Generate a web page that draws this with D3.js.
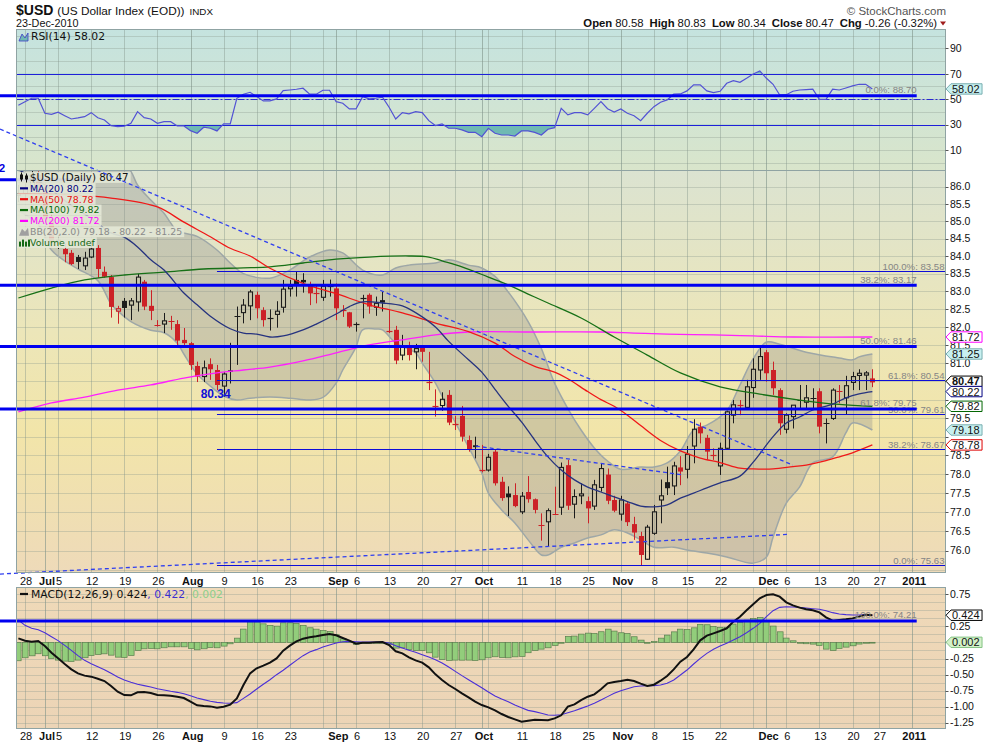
<!DOCTYPE html>
<html>
<head>
<meta charset="utf-8">
<title>$USD (US Dollar Index (EOD))</title>
<script src="https://cdn.jsdelivr.net/npm/d3@7"></script>
<style>
  body { margin: 0; background: #fff; }
  svg { display: block; }
  svg text { font-family: "Liberation Sans", Arial, sans-serif; }
  .lg { font-family: "DejaVu Sans", Verdana, sans-serif; }
</style>
</head>
<body>
<svg id="chart" width="990" height="744"></svg>
<script>
// ---- values ----
// day index: 0 = Mon 28-Jun-2010, one step per weekday; first bar is Fri 25-Jun
var firstDay = -1;

var openVals = [85.75,85.80,85.95,86.35,86.00,85.05,84.40,84.20,84.09,83.97,83.72,83.97,84.23,83.55,83.40,82.44,82.73,82.61,82.70,83.27,
  82.59,82.06,82.08,82.16,82.08,81.64,81.55,80.92,80.63,80.97,80.81,80.37,80.80,82.28,82.40,82.59,82.90,82.47,82.24,82.35,
  82.55,83.07,83.32,83.32,83.18,82.94,82.83,83.15,83.08,82.48,82.41,82.09,82.79,82.90,82.55,82.75,81.90,81.92,81.22,81.45,
  81.31,81.45,80.47,79.83,79.84,80.13,79.35,79.56,78.91,78.77,78.10,78.11,78.60,77.80,77.49,77.45,77.01,77.53,77.34,76.66,
  76.75,76.96,77.13,78.24,77.21,77.43,77.29,77.16,77.65,77.99,77.32,76.95,77.23,76.69,76.38,75.78,76.45,77.32,77.79,77.69,
  78.18,78.13,78.75,79.27,78.97,78.52,78.22,78.69,79.58,79.83,79.79,80.33,80.81,81.30,80.81,80.26,79.20,79.54,79.98,79.93,
  80.04,80.23,79.37,79.49,80.23,80.05,80.47,80.66,80.67,80.58];
var highVals = [86.05,86.10,86.50,86.45,86.10,85.20,84.60,84.35,84.17,84.03,84.12,84.41,84.31,83.70,83.46,82.59,82.81,82.81,83.49,83.32,
  83.03,82.19,82.39,82.31,82.19,81.97,81.58,81.04,81.07,81.13,80.95,80.75,81.56,82.57,82.78,83.04,82.99,82.55,82.49,82.72,
  83.32,83.32,83.55,83.51,83.27,83.15,83.32,83.33,83.22,82.61,82.42,82.13,82.90,82.94,82.85,82.99,82.47,82.03,81.78,81.59,
  81.53,81.45,81.31,80.28,80.20,80.26,79.56,79.83,79.03,79.00,78.78,78.54,78.66,77.93,77.68,77.76,77.53,77.95,77.36,76.97,
  77.10,77.67,78.31,78.38,77.60,77.76,77.41,77.85,78.29,78.15,77.43,77.43,77.28,76.88,76.49,76.67,77.19,77.86,78.20,78.33,
  78.48,78.75,79.47,79.38,79.05,78.69,78.84,79.70,79.99,79.99,80.54,81.13,81.47,81.36,81.04,80.31,79.63,79.85,80.40,80.40,
  80.31,80.31,79.49,80.31,80.40,80.65,80.76,80.83,80.78,80.83];
var lowVals = [85.55,85.60,85.85,85.90,84.90,84.25,84.20,83.82,83.74,83.63,83.60,83.94,83.38,83.38,82.26,82.09,82.26,82.19,82.43,82.47,
  82.19,82.01,81.83,81.92,81.50,81.50,80.81,80.48,80.48,80.54,80.26,80.08,80.44,80.95,82.10,82.19,82.24,82.01,81.90,81.98,
  82.40,82.85,82.85,82.96,82.61,82.66,82.73,82.85,82.19,82.28,81.97,81.87,82.24,82.37,82.31,82.43,81.83,80.97,81.08,81.07,
  80.83,81.04,80.26,79.54,79.70,79.31,79.18,78.87,78.60,78.42,78.05,78.07,77.70,77.30,76.90,77.13,76.95,77.25,76.97,76.26,
  76.12,76.93,76.93,77.06,76.84,77.21,76.71,77.06,77.54,77.21,77.00,76.78,76.64,76.28,75.63,75.76,76.41,76.71,77.45,77.45,
  77.71,77.89,78.29,78.82,78.38,78.38,77.98,78.67,79.36,79.58,79.72,80.05,80.54,80.49,80.13,79.05,79.09,79.22,79.77,79.77,
  79.77,79.09,78.82,79.45,79.90,79.61,80.26,80.26,80.26,80.34];
var closeVals = [85.80,85.95,86.35,86.00,85.05,84.40,84.45,84.05,83.77,83.83,83.94,84.20,83.63,83.41,82.56,82.51,82.53,82.73,83.40,82.57,
  82.45,82.05,82.17,82.15,81.62,81.55,80.95,80.63,80.87,80.83,80.40,80.70,80.76,82.30,82.61,82.98,82.52,82.19,82.22,82.44,
  83.06,83.13,83.15,83.25,82.94,82.93,83.14,83.16,82.52,82.47,82.01,82.06,82.80,82.57,82.66,82.68,81.89,81.07,81.45,81.22,
  81.40,81.31,80.46,79.82,80.01,79.38,79.34,79.00,78.66,78.72,78.09,78.45,77.76,77.37,77.39,77.16,77.42,77.34,77.06,76.65,
  77.04,76.95,78.18,77.17,77.41,77.48,77.10,77.72,78.15,77.30,77.04,77.32,76.74,76.47,75.89,76.61,77.01,77.43,77.63,78.22,
  78.07,78.53,79.20,79.09,78.60,78.51,78.69,79.67,79.86,79.85,80.35,80.83,81.18,80.72,80.31,79.36,79.58,79.85,79.99,80.05,
  80.05,79.27,79.38,80.26,80.22,80.38,80.63,80.72,80.73,80.47];

var ma20Days = [-1,3,7,10,13,15,17,19,21,24,26,28,31,33,35,37,39,42,44,47,49,51,54,57,59,62,64,67,69,71,
  73,75,77,79,81,83,85,87,89,91,93,95,97,99,101,103,105,108,110,113,115,117,119,122,124,126,128];
var ma20Vals = [86.50,86.05,85.45,85.08,84.66,84.54,84.26,83.89,83.60,82.95,82.62,82.30,81.95,81.83,81.80,81.72,81.75,81.92,82.08,82.36,
  82.57,82.70,82.67,82.59,82.40,82.00,81.60,81.09,80.75,80.28,79.82,79.40,78.91,78.46,78.11,77.85,77.66,77.53,77.40,77.28,
  77.16,77.14,77.19,77.37,77.50,77.64,77.77,77.95,78.32,79.00,79.37,79.53,79.72,79.88,80.05,80.16,80.22];
var ma50Days = [-1,3,7,13,20,24,28,31,34,37,42,47,52,57,62,67,71,74,77,80,82,85,87,89,91,93,96,99,102,105,108,110,113,116,118,121,123,125,128];
var ma50Vals = [85.80,85.78,85.76,85.67,85.41,84.97,84.55,84.22,84.00,83.65,83.22,82.93,82.62,82.39,82.11,81.87,81.55,81.18,80.91,80.75,
  80.57,80.22,80.00,79.82,79.58,79.30,78.90,78.62,78.43,78.31,78.16,78.14,78.14,78.20,78.24,78.36,78.46,78.57,78.78];
var ma100Days = [-1,4,9,15,21,27,33,37,42,47,52,58,61,63,66,70,73,76,79,84,89,94,99,105,111,117,123,128];
var ma100Vals = [82.81,83.09,83.32,83.46,83.54,83.63,83.66,83.69,83.80,83.91,83.97,84.00,83.97,83.86,83.69,83.40,83.18,82.92,82.67,82.25,
  81.72,81.22,80.73,80.35,80.15,79.99,79.87,79.82];
var ma200Days = [-1,4,9,14,19,24,29,33,37,42,47,52,57,62,67,77,87,92,97,104,110,116,128];
var ma200Vals = [79.67,79.91,80.07,80.26,80.40,80.59,80.73,80.81,80.89,81.06,81.28,81.50,81.64,81.78,81.86,81.86,81.86,81.83,81.80,81.78,
  81.75,81.72,81.72];
var bbUpperDays = [-1,5,10,14,16,17,19,21,22,23,26,29,31,33,37,40,43,46,48,51,54,56,58,62,64,67,69,71,73,76,
  78,80,82,84,86,88,90,93,95,97,99,101,103,106,108,110,112,114,118,123,125,126,128];
var bbUpperVals = [88.3,88.0,87.5,86.9,86.45,86.05,85.61,85.23,84.95,84.72,84.56,84.17,83.80,83.50,83.37,83.60,83.97,84.17,84.09,83.60,
  83.46,83.66,83.74,83.80,83.89,83.74,83.66,83.42,82.98,82.15,81.40,80.45,79.76,79.18,78.70,78.35,78.13,78.19,78.19,78.30,
  78.62,79.18,79.31,79.70,80.40,81.12,81.58,81.52,81.30,81.14,81.09,81.17,81.25];
var bbLowerDays = [-1,2,4,6,8,11,13,14,16,19,21,23,24,26,28,30,32,34,37,40,43,45,47,48,50,51,53,54,56,59,
  60,62,64,67,69,70,72,74,76,78,79,81,83,85,87,89,91,93,95,98,100,103,106,110,112,113,115,117,119,122,124,125,128];
var bbLowerVals = [85.30,84.90,84.17,83.86,83.63,83.30,82.64,82.45,82.15,81.91,81.84,81.55,81.25,80.70,80.37,80.10,79.99,80.04,80.07,80.04,
  79.99,80.06,80.45,80.81,81.44,81.92,81.94,81.92,81.55,81.28,81.00,80.45,79.72,78.72,78.03,77.50,77.06,76.72,76.28,75.89,
  75.89,76.09,76.20,76.33,76.41,76.54,76.46,76.28,76.09,76.09,76.02,75.94,75.84,75.68,75.84,76.35,77.24,77.66,78.30,78.46,
  79.10,79.37,79.18];

var rsiVals = [45.2,48.0,50.7,50.7,38.9,38.1,39.7,37.0,34.4,35.2,36.2,39.4,35.4,33.6,29.2,28.4,28.7,31.0,40.2,35.4,
  34.4,31.0,32.3,32.3,28.9,28.9,25.2,23.2,27.9,27.1,25.0,30.5,30.5,50.7,53.9,55.4,52.0,48.6,48.6,50.2,
  56.7,57.2,57.8,58.6,53.9,53.9,57.0,57.0,48.0,46.8,42.3,42.3,52.0,50.2,50.7,51.5,43.6,34.4,39.4,38.4,
  40.2,39.4,33.1,29.2,30.5,27.1,27.1,25.8,23.9,23.9,20.5,27.1,23.2,21.8,21.8,21.0,25.0,25.0,23.9,21.8,
  26.3,27.6,42.8,37.6,39.4,39.4,37.6,42.8,48.0,42.5,39.9,42.3,38.9,37.0,33.1,38.9,44.1,47.6,49.4,53.9,
  54.1,56.5,61.2,61.2,56.5,55.1,56.2,62.5,64.6,63.3,66.4,69.8,72.2,66.4,61.7,53.3,53.5,56.2,57.2,57.5,
  57.8,49.9,49.9,57.8,57.2,58.8,60.4,61.7,61.7,58.02];

var macdVals = [0.064,0.028,0.012,0.023,-0.055,-0.160,-0.247,-0.336,-0.419,-0.481,-0.517,-0.533,-0.565,-0.601,-0.679,-0.767,-0.819,-0.824,-0.777,-0.772,
  -0.787,-0.819,-0.824,-0.829,-0.845,-0.866,-0.923,-0.980,-0.990,-0.996,-1.016,-1.000,-0.969,-0.871,-0.663,-0.481,-0.403,-0.362,-0.315,-0.248,
  -0.128,-0.050,0.017,0.059,0.080,0.095,0.116,0.132,0.111,0.069,0.028,-0.019,-0.003,-0.003,0.002,0.007,-0.040,-0.138,-0.170,-0.232,
  -0.279,-0.315,-0.388,-0.497,-0.585,-0.663,-0.725,-0.793,-0.855,-0.923,-0.975,-1.011,-1.058,-1.115,-1.161,-1.198,-1.234,-1.218,-1.203,-1.208,
  -1.213,-1.182,-1.135,-1.000,-0.964,-0.897,-0.845,-0.808,-0.730,-0.637,-0.616,-0.600,-0.580,-0.600,-0.642,-0.679,-0.658,-0.596,-0.523,-0.420,
  -0.300,-0.227,-0.108,0.033,0.106,0.142,0.178,0.220,0.324,0.401,0.500,0.594,0.687,0.739,0.750,0.713,0.625,0.578,0.542,0.516,
  0.500,0.469,0.391,0.339,0.350,0.360,0.375,0.402,0.433,0.424];
var signalVals = [0.349,0.267,0.220,0.199,0.152,0.090,0.028,-0.045,-0.123,-0.206,-0.279,-0.330,-0.377,-0.424,-0.481,-0.538,-0.585,-0.621,-0.652,-0.673,
  -0.694,-0.720,-0.741,-0.761,-0.777,-0.798,-0.829,-0.865,-0.891,-0.917,-0.933,-0.943,-0.948,-0.938,-0.871,-0.803,-0.725,-0.652,-0.580,-0.502,
  -0.434,-0.356,-0.279,-0.206,-0.149,-0.112,-0.071,-0.040,-0.009,0.012,0.017,0.012,0.007,0.007,0.007,0.007,-0.009,-0.050,-0.086,-0.123,
  -0.154,-0.190,-0.227,-0.268,-0.320,-0.382,-0.450,-0.517,-0.580,-0.642,-0.705,-0.772,-0.835,-0.880,-0.922,-0.974,-1.016,-1.058,-1.078,-1.104,
  -1.130,-1.135,-1.125,-1.094,-1.063,-1.027,-0.990,-0.948,-0.897,-0.844,-0.793,-0.751,-0.720,-0.689,-0.678,-0.673,-0.673,-0.663,-0.637,-0.585,
  -0.507,-0.430,-0.336,-0.247,-0.170,-0.107,-0.055,-0.014,0.038,0.090,0.152,0.220,0.298,0.401,0.495,0.547,0.557,0.552,0.547,0.536,
  0.526,0.516,0.495,0.464,0.443,0.433,0.427,0.427,0.433,0.422];

// x axis: weekday index of each label
var tickDays = [0,3,5,10,15,20,25,30,35,40,47,50,55,60,65,69,75,80,85,90,95,100,105,112,115,120,125,129,134];
var tickLabels = ["28","Jul","5","12","19","26","Aug","9","16","23","Sep","6","13","20","27","Oct","11","18","25",
  "Nov","8","15","22","Dec","6","13","20","27","2011"];
var extraGridDays = [45,70,110];
var priceTicks = [76,76.5,77,77.5,78,78.5,79,79.5,80,80.5,81,81.5,82,82.5,83,83.5,84,84.5,85,85.5,86];
var rsiTicks = [10,30,50,70,90];
var macdTicks = [-1.25,-1,-0.75,-0.5,-0.25,0,0.25,0.5,0.75];

// annotations drawn on the chart (day index, price)
var fibALevels = [83.58,80.54,79.61,78.67,75.63];
var fibANames = ["100.0%","61.8%","50.0%","38.2%","0.0%"];
var fibADays = [29,140];
var fibBLevels = [88.70,83.17,81.46,79.75,74.21];
var fibBNames = ["0.0%","38.2%","50.0%","61.8%","100.0%"];
var fibBDays = [-3.8,134.7];
var trendLines = [
  [[-3.78,87.70],[116.0,78.24]],
  [[-3.78,75.40],[115.1,76.42]],
  [[68.1,78.75],[99.4,77.98]]
];
var lowNote = {day: 28.8, price: 80.05, text: "80.34"};

// ---- layout ----
var svg = d3.select("#chart");
var defs = svg.append("defs");
var left = 16.5, right = 945.5;
var pRsi = {top: 29.5, bottom: 170.5}, pMain = {top: 170.5, bottom: 572.5}, pMacd = {top: 587.5, bottom: 728.5};

var x = d3.scaleLinear().domain([0, 130]).range([25, 25 + 6.62 * 130]);
var yP = d3.scaleLog().domain([76, 86]).range([550.7, 186.7]);
var yR = d3.scaleLinear().domain([10, 90]).range([150, 48.3]);
var yM = d3.scaleLinear().domain([-1.25, 0.75]).range([722.7, 594.3]);

// plain hyphen minus, as on the original chart
function fx(n) { return function(v) { return (+v).toFixed(n); }; }
var f1 = fx(1), f2 = fx(2), f3 = fx(3);
function lastOf(a) { return a[a.length - 1]; }

function vGrad(id, stops) {
  var g = defs.append("linearGradient").attr("id", id)
    .attr("x1", 0).attr("y1", 0).attr("x2", 0).attr("y2", 1);
  stops.forEach(function(s) { g.append("stop").attr("offset", s[0]).attr("stop-color", s[1]); });
}
vGrad("bgRsi", [[0, "#c5e3df"], [1, "#d9e5cb"]]);
vGrad("bgMain", [[0, "#dbe3d1"], [0.4, "#ece6b9"], [0.65, "#f2e5a9"], [1, "#eedab9"]]);
vGrad("bgMacd", [[0, "#efd9b8"], [1, "#ecd4b6"]]);

function clip(id, p) {
  defs.append("clipPath").attr("id", id).append("rect")
    .attr("x", left).attr("y", p.top).attr("width", right - left).attr("height", p.bottom - p.top);
}
clip("clipRsi", pRsi); clip("clipMain", pMain); clip("clipMacd", pMacd);

var gridDays = tickDays.concat(extraGridDays);
var monthDays = [3, 25, 47, 69, 90, 112, 134];

function panel(p, bg, clipId, yScale, hLines) {
  svg.append("rect").attr("x", left).attr("y", p.top).attr("width", right - left)
    .attr("height", p.bottom - p.top).attr("fill", "url(#" + bg + ")");
  var g = svg.append("g").attr("clip-path", "url(#" + clipId + ")");
  g.selectAll(null).data(hLines).enter().append("line")
    .attr("x1", left).attr("x2", right)
    .attr("y1", function(d) { return Math.round(yScale(d)) + 0.5; })
    .attr("y2", function(d) { return Math.round(yScale(d)) + 0.5; })
    .attr("stroke", "#8c9c90").attr("stroke-opacity", 0.35);
  g.selectAll(null).data(gridDays).enter().append("line")
    .attr("x1", function(d) { return Math.round(x(d)) + 0.5; })
    .attr("x2", function(d) { return Math.round(x(d)) + 0.5; })
    .attr("y1", p.top).attr("y2", p.bottom)
    .attr("stroke", "#7f9288")
    .attr("stroke-opacity", function(d) { return monthDays.indexOf(d) >= 0 ? 0.6 : 0.4; });
}
panel(pRsi, "bgRsi", "clipRsi", yR, d3.range(0, 101, 10));
panel(pMain, "bgMain", "clipMain", yP, d3.range(75.5, 86.6, 0.5));
panel(pMacd, "bgMacd", "clipMacd", yM, d3.range(-1.25, 0.8, 0.125));

// ---- RSI ----
var gR = svg.append("g").attr("clip-path", "url(#clipRsi)");
var rsiPts = rsiVals.map(function(v, i) { return [x(firstDay + i), yR(v)]; });
defs.append("clipPath").attr("id", "below30").append("rect")
  .attr("x", left).attr("y", yR(30)).attr("width", right - left).attr("height", pRsi.bottom - yR(30));
defs.append("clipPath").attr("id", "above70").append("rect")
  .attr("x", left).attr("y", pRsi.top).attr("width", right - left).attr("height", yR(70) - pRsi.top);
gR.append("g").attr("clip-path", "url(#below30)").append("path")
  .attr("d", d3.area().x(function(d) { return d[0]; }).y0(yR(30)).y1(function(d) { return d[1]; })(rsiPts))
  .attr("fill", "#6fb9b3");
gR.append("g").attr("clip-path", "url(#above70)").append("path")
  .attr("d", d3.area().x(function(d) { return d[0]; }).y0(yR(70)).y1(function(d) { return d[1]; })(rsiPts))
  .attr("fill", "#6fb9b3");
[30, 70].forEach(function(v) {
  gR.append("line").attr("x1", left).attr("x2", right)
    .attr("y1", Math.round(yR(v)) + 0.5).attr("y2", Math.round(yR(v)) + 0.5)
    .attr("stroke", "#1f1fd8").attr("stroke-width", 1);
});
gR.append("line").attr("x1", left).attr("x2", right)
  .attr("y1", Math.round(yR(50)) + 0.5).attr("y2", Math.round(yR(50)) + 0.5)
  .attr("stroke", "#2a2ad0").attr("stroke-dasharray", "7,2,2,2");
gR.append("path").attr("d", d3.line()(rsiPts))
  .attr("fill", "none").attr("stroke", "#5252d4").attr("stroke-width", 1.2);

// ---- price panel ----
var gP = svg.append("g").attr("clip-path", "url(#clipMain)");
function pts(days, vals) { return days.map(function(d, i) { return [x(d), yP(vals[i])]; }); }
var smooth = d3.line().curve(d3.curveCatmullRom.alpha(0.5));
var upPts = pts(bbUpperDays, bbUpperVals), loPts = pts(bbLowerDays, bbLowerVals);
gP.append("path")
  .attr("d", smooth(upPts) + "L" + smooth(loPts.slice().reverse()).slice(1) + "Z")
  .attr("fill", "#8f8f8f").attr("fill-opacity", 0.34);
[upPts, loPts].forEach(function(p) {
  gP.append("path").attr("d", smooth(p)).attr("fill", "none")
    .attr("stroke", "#9ea7a7").attr("stroke-width", 1.5);
});

var bars = closeVals.map(function(c, i) {
  return {day: firstDay + i, o: openVals[i], h: highVals[i], l: lowVals[i], c: c,
          prev: i > 0 ? closeVals[i - 1] : c};
});
var bw = 5;
gP.append("g").selectAll("g").data(bars).enter().append("g")
  .each(function(b) {
    var g = d3.select(this);
    var cx = Math.round(x(b.day)) + 0.5;
    var col = b.c < b.prev ? "#cc2127" : "#1c1c1c";
    var yT = yP(Math.max(b.o, b.c)), yB = yP(Math.min(b.o, b.c));
    var hollow = b.c > b.o;
    if (yB - yT < 1.2) {
      g.append("line").attr("x1", cx).attr("x2", cx).attr("y1", yP(b.h)).attr("y2", yP(b.l)).attr("stroke", col);
      g.append("line").attr("x1", cx - 3).attr("x2", cx + 3)
        .attr("y1", Math.round(yT) + 0.5).attr("y2", Math.round(yT) + 0.5).attr("stroke", col).attr("stroke-width", 1.2);
    } else if (hollow) {
      g.append("line").attr("x1", cx).attr("x2", cx).attr("y1", yP(b.h)).attr("y2", yT).attr("stroke", col);
      g.append("line").attr("x1", cx).attr("x2", cx).attr("y1", yB).attr("y2", yP(b.l)).attr("stroke", col);
      g.append("rect").attr("x", cx - 2).attr("y", yT).attr("width", bw - 1).attr("height", yB - yT)
        .attr("fill", "none").attr("stroke", col).attr("stroke-width", 1.1);
    } else {
      g.append("line").attr("x1", cx).attr("x2", cx).attr("y1", yP(b.h)).attr("y2", yP(b.l)).attr("stroke", col);
      g.append("rect").attr("x", cx - 2.5).attr("y", yT).attr("width", bw).attr("height", yB - yT).attr("fill", col);
    }
  });

var maDefs = [
  [ma200Days, ma200Vals, "#ff1fff"],
  [ma100Days, ma100Vals, "#167016"],
  [ma50Days, ma50Vals, "#f01818"],
  [ma20Days, ma20Vals, "#26337f"]
];
maDefs.forEach(function(m) {
  gP.append("path").attr("d", smooth(pts(m[0], m[1])))
    .attr("fill", "none").attr("stroke", m[2]).attr("stroke-width", 1.3);
});

// ---- MACD ----
var gM = svg.append("g").attr("clip-path", "url(#clipMacd)");
var histVals = macdVals.map(function(v, i) { return v - signalVals[i]; });
gM.append("g").selectAll("rect").data(histVals).enter().append("rect")
  .attr("x", function(d, i) { return Math.round(x(firstDay + i)) - 2.5; })
  .attr("width", 5.6)
  .attr("y", function(d) { return Math.min(yM(0), yM(d)); })
  .attr("height", function(d) { return Math.max(0.8, Math.abs(yM(d) - yM(0))); })
  .attr("fill", "#92cd7b").attr("stroke", "#5a7f4e").attr("stroke-width", 0.7);
gM.append("path").attr("d", d3.line()(signalVals.map(function(v, i) { return [x(firstDay + i), yM(v)]; })))
  .attr("fill", "none").attr("stroke", "#4a2fd8").attr("stroke-width", 1.1);
gM.append("path").attr("d", d3.line()(macdVals.map(function(v, i) { return [x(firstDay + i), yM(v)]; })))
  .attr("fill", "none").attr("stroke", "#111").attr("stroke-width", 2);

// ---- panel legends ----
var last = closeVals.length - 1;

var rsiLg = svg.append("g");
rsiLg.append("path").attr("d", "M19,41 L22,34 L25,38 L28,33 L28,41 Z").attr("fill", "#6fb9b3").attr("stroke", "#3c3cc8").attr("stroke-width", 0.8);
rsiLg.append("text").attr("class", "lg").attr("x", 31).attr("y", 40).style("font-size", "10.8px").attr("fill", "#111")
  .text("RSI(14) " + f2(lastOf(rsiVals)));

var rows = [
  {t: "$USD (Daily) " + f2(closeVals[last]), c: "#111", icon: "candle", fs: 10.3},
  {t: "MA(20) " + f2(lastOf(ma20Vals)), c: "#000080", icon: "line"},
  {t: "MA(50) " + f2(lastOf(ma50Vals)), c: "#e81010", icon: "line"},
  {t: "MA(100) " + f2(lastOf(ma100Vals)), c: "#0a6a0a", icon: "line"},
  {t: "MA(200) " + f2(lastOf(ma200Vals)), c: "#ff00ff", icon: "line"},
  {t: "BB(20,2.0) " + f2(lastOf(bbLowerVals)) + " - " + f2(lastOf(ma20Vals)) + " - " + f2(lastOf(bbUpperVals)), c: "#8a8a8a", icon: "band"},
  {t: "Volume undef", c: "#156915", icon: "vol"}
];

// short level mark that sits under the legend
svg.append("line").attr("x1", 0).attr("x2", x(10)).attr("y1", yP(86.2)).attr("y2", yP(86.2))
  .attr("stroke", "#0000ee").attr("stroke-width", 3);
svg.append("text").attr("x", 5).attr("y", 172).attr("text-anchor", "end")
  .style("font-weight", "bold").style("font-size", "11px").attr("fill", "#0000dd").text("2");

var lg = svg.append("g");
rows.forEach(function(r, i) {
  var cy = 177.5 + i * 10.85;
  var g = lg.append("g");
  var bgR = g.append("rect").attr("x", 17).attr("y", cy - 5.4).attr("height", 10.8)
    .attr("fill", "#e3e7d6").attr("fill-opacity", 0.92);
  var t = g.append("text").attr("class", "lg").attr("x", 30).attr("y", cy).attr("dy", "0.36em")
    .style("font-size", (r.fs || 9.4) + "px").attr("fill", r.c).text(r.t);
  bgR.attr("width", 15 + t.node().getComputedTextLength());
  if (r.icon === "line") {
    g.append("line").attr("x1", 20).attr("x2", 28).attr("y1", cy).attr("y2", cy).attr("stroke", r.c).attr("stroke-width", 2.2);
  } else if (r.icon === "candle") {
    g.append("rect").attr("x", 20).attr("y", cy - 3).attr("width", 3).attr("height", 5).attr("fill", "#111");
    g.append("rect").attr("x", 25).attr("y", cy - 2).attr("width", 3).attr("height", 4).attr("fill", "#111");
    g.append("path").attr("d", "M21.5," + (cy - 5) + "V" + (cy + 4) + "M26.5," + (cy - 4) + "V" + (cy + 5)).attr("stroke", "#111");
  } else if (r.icon === "band") {
    g.append("path").attr("d", "M19," + (cy + 4) + "L22," + (cy - 3) + "L25," + cy + "L28," + (cy - 4) + "L29," + (cy + 4) + "Z")
      .attr("fill", "#a0a0a0");
  } else {
    [19, 22, 25, 28].forEach(function(bx, j) {
      g.append("rect").attr("x", bx).attr("y", cy - 1 - (j % 2) * 2).attr("width", 2).attr("height", 5 + (j % 2) * 2).attr("fill", r.c);
    });
  }
});

var macdLg = svg.append("text").attr("class", "lg").attr("x", 31).attr("y", 597.5).style("font-size", "10.8px");
svg.append("line").attr("x1", 20).attr("x2", 28).attr("y1", 594).attr("y2", 594).attr("stroke", "#111").attr("stroke-width", 2.2);
macdLg.append("tspan").attr("fill", "#111").text("MACD(12,26,9) " + f3(lastOf(macdVals)));
macdLg.append("tspan").attr("fill", "#3b2fd0").text(", " + f3(lastOf(signalVals)));
macdLg.append("tspan").attr("fill", "#8ccf8c").text(", " + f3(lastOf(macdVals) - lastOf(signalVals)));

// ---- drawn annotations ----
var ann = svg.append("g");
var dash = d3.line().x(function(d) { return x(d[0]); }).y(function(d) { return yP(d[1]); });
ann.selectAll(null).data(trendLines).enter().append("path")
  .attr("d", dash).attr("fill", "none").attr("stroke", "#2f3ff0").attr("stroke-width", 1.3)
  .attr("stroke-dasharray", "4,3");
fibALevels.forEach(function(v, i) {
  var yy = Math.round(yP(v)) + 0.5;
  ann.append("line").attr("x1", x(fibADays[0])).attr("x2", right).attr("y1", yy).attr("y2", yy)
    .attr("stroke", "#0d0dd8").attr("stroke-width", 1.2);
  ann.append("text").attr("x", right - 1).attr("y", yy - 2).attr("text-anchor", "end")
    .style("font-size", "9.6px").attr("fill", "#858585").text(fibANames[i] + ": " + f2(v));
});
fibBLevels.forEach(function(v, i) {
  var yy = yP(v);
  ann.append("line").attr("x1", x(fibBDays[0])).attr("x2", x(fibBDays[1])).attr("y1", yy).attr("y2", yy)
    .attr("stroke", "#0000f0").attr("stroke-width", 3);
  ann.append("text").attr("x", x(fibBDays[1])).attr("y", yy - 2.5).attr("text-anchor", "end")
    .style("font-size", "9.6px").attr("fill", "#858585").text(fibBNames[i] + ": " + f2(v));
});
ann.append("text").attr("x", x(lowNote.day)).attr("y", yP(lowNote.price)).attr("text-anchor", "middle")
  .style("font-weight", "bold").style("font-size", "12px").attr("fill", "#1010d8").text(lowNote.text);

// ---- frames ----
[pRsi, pMain, pMacd].forEach(function(p) {
  svg.append("rect").attr("x", left).attr("y", p.top).attr("width", right - left).attr("height", p.bottom - p.top)
    .attr("fill", "none").attr("stroke", "#8fa3a3");
});

// ---- value tags on the right edge (placed first so axis labels under them can be left out) ----
function placeTags(list) {
  list.sort(function(a, b) { return a.y - b.y; });
  for (var i = list.length - 2; i >= 0; i--) {
    if (list[i].y > list[i + 1].y - 10.3) list[i].y = list[i + 1].y - 10.3;
  }
  return list;
}
var mainTags = placeTags([
  {y: yP(lastOf(ma200Vals)), label: f2(lastOf(ma200Vals)), fill: "#fff", stroke: "#ff00ff"},
  {y: yP(lastOf(bbUpperVals)), label: f2(lastOf(bbUpperVals)), fill: "#c8f0f0", stroke: "#79aeb0"},
  {y: yP(closeVals[last]), label: f2(closeVals[last]), fill: "#fff", stroke: "#000", bold: true},
  {y: yP(lastOf(ma20Vals)), label: f2(lastOf(ma20Vals)), fill: "#fff", stroke: "#000080"},
  {y: yP(lastOf(ma100Vals)), label: f2(lastOf(ma100Vals)), fill: "#fff", stroke: "#006600"},
  {y: yP(lastOf(bbLowerVals)), label: f2(lastOf(bbLowerVals)), fill: "#c8f0f0", stroke: "#79aeb0"},
  {y: yP(lastOf(ma50Vals)), label: f2(lastOf(ma50Vals)), fill: "#fff", stroke: "#dd0000"}
]);
var rsiTags = placeTags([{y: yR(lastOf(rsiVals)), label: f2(lastOf(rsiVals)), fill: "#c8f0f0", stroke: "#79aeb0"}]);
var macdTags = placeTags([
  {y: yM(lastOf(macdVals)), label: f3(lastOf(macdVals)), fill: "#fff", stroke: "#000"},
  {y: yM(lastOf(macdVals) - lastOf(signalVals)), label: f3(lastOf(macdVals) - lastOf(signalVals)), fill: "#d3f1c9", stroke: "#86c486"}
]);

// ---- axes ----
function rightAxis(ticks, scale, fmt, tagList) {
  var g = svg.append("g");
  ticks.forEach(function(v) {
    var yy = scale(v);
    g.append("line").attr("x1", right).attr("x2", right + 3).attr("y1", Math.round(yy) + 0.5).attr("y2", Math.round(yy) + 0.5).attr("stroke", "#555");
    var covered = tagList.some(function(t) { return Math.abs(t.y - yy) < 7.5; });
    if (covered) return;
    g.append("text").attr("x", right + 4.5).attr("y", yy).attr("dy", "0.36em")
      .style("font-size", "10.5px").attr("fill", "#111").text(fmt(v));
  });
}
rightAxis(priceTicks, yP, f1, mainTags);
rightAxis(rsiTicks, yR, d3.format("d"), rsiTags);
rightAxis(macdTicks, yM, f2, macdTags);

function xAxis(baseY) {
  var g = svg.append("g");
  tickDays.forEach(function(d, i) {
    var bold = isNaN(+tickLabels[i]) || tickLabels[i] === "2011";
    g.append("text").attr("x", x(d) + (bold ? 2.2 : 1)).attr("y", baseY).attr("text-anchor", "middle")
      .style("font-size", "11px").style("font-weight", bold ? "bold" : "normal").attr("fill", "#111")
      .text(tickLabels[i]);
  });
}
xAxis(584.5);
xAxis(739.5);

function drawTags(list) {
  list.forEach(function(t) {
    var g = svg.append("g");
    var txt = g.append("text").attr("x", 952).attr("y", t.y).attr("dy", "0.36em")
      .style("font-size", "11px").style("font-weight", t.bold ? "bold" : "normal").attr("fill", "#111").text(t.label);
    var w = txt.node().getComputedTextLength();
    g.insert("path", "text")
      .attr("d", "M" + (right + 0.5) + "," + t.y + "L951," + (t.y - 5.2) + "H" + (954.5 + w) + "V" + (t.y + 5.2) + "H951Z")
      .attr("fill", t.fill).attr("stroke", t.stroke);
  });
}
drawTags(mainTags);
drawTags(rsiTags);
drawTags(macdTags);

// ---- header ----
var h1 = svg.append("text").attr("x", 16).attr("y", 15).attr("fill", "#111");
h1.append("tspan").style("font-weight", "bold").style("font-size", "14px").text("$USD");
h1.append("tspan").style("font-size", "11.8px").attr("dx", 4).text("(US Dollar Index (EOD))");
h1.append("tspan").style("font-size", "9.8px").attr("dx", 5).text("INDX");
svg.append("text").attr("x", 16).attr("y", 26.5).style("font-size", "10.8px").attr("fill", "#111").text("23-Dec-2010");
svg.append("text").attr("x", 946).attr("y", 15).attr("text-anchor", "end").style("font-size", "11.5px")
  .attr("fill", "#555").text("\u00a9 StockCharts.com");
var ohlc = svg.append("text").attr("x", 937).attr("y", 27).attr("text-anchor", "end")
  .style("font-size", "11.3px").attr("fill", "#111");
var chg = closeVals[last] - closeVals[last - 1];
[["Open", openVals[last]], ["High", highVals[last]], ["Low", lowVals[last]], ["Close", closeVals[last]]].forEach(function(p, i) {
  ohlc.append("tspan").style("font-weight", "bold").attr("dx", i ? 6 : 0).text(p[0]);
  ohlc.append("tspan").attr("dx", 3).text(f2(p[1]));
});
ohlc.append("tspan").style("font-weight", "bold").attr("dx", 6).text("Chg");
ohlc.append("tspan").attr("dx", 3).text(f2(chg) + " (" + f2(chg / closeVals[last - 1] * 100) + "%)");
svg.append("path").attr("d", "M940,21.5 L946,21.5 L943,25.5 Z").attr("fill", "#a01c1c");
</script>
</body>
</html>
